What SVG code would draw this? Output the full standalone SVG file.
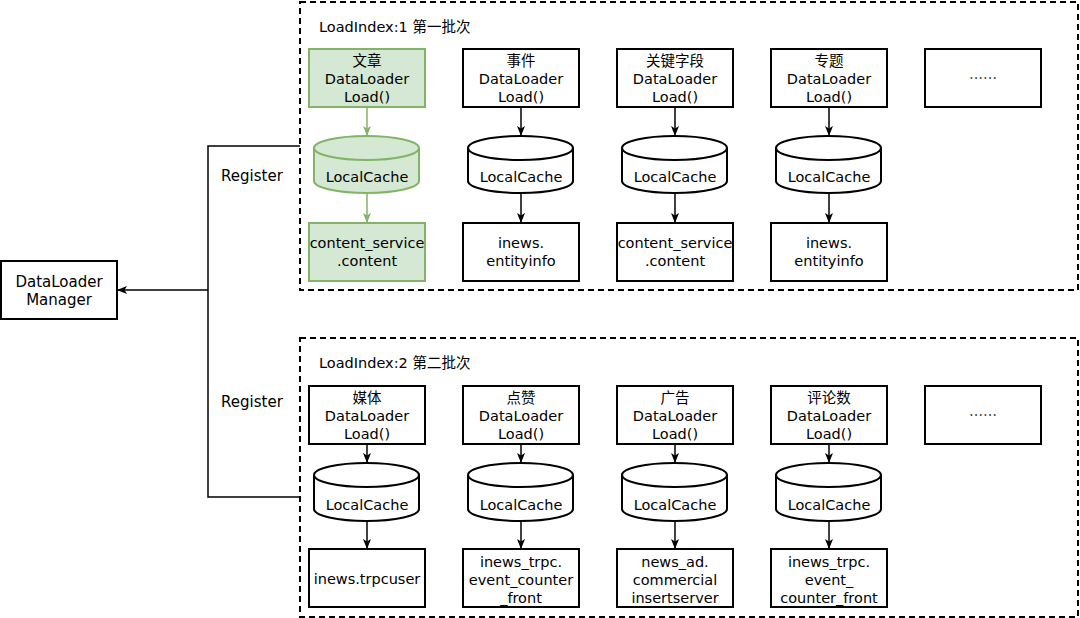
<svg xmlns="http://www.w3.org/2000/svg" width="1080" height="618" viewBox="0 0 1080 618">
<style>
text{font-family:"DejaVu Sans","Noto Sans CJK SC",sans-serif;font-size:14.5px;fill:#000;text-anchor:middle}
.lbl{text-anchor:start;font-size:14.5px}
.reg{font-size:15px}
.mgr{font-size:15px}
.box{fill:#fff;stroke:#000;stroke-width:2}
.gbox{fill:#d5e8d4;stroke:#82b366;stroke-width:2}
.lid{fill:none;stroke:#000;stroke-width:2}
.glid{fill:none;stroke:#82b366;stroke-width:2}
.grp{fill:none;stroke:#000;stroke-width:2;stroke-dasharray:6 4}
.edge{fill:none;stroke:#000;stroke-width:1.5}
.arr{fill:none;stroke:#000;stroke-width:1.5;marker-end:url(#ah)}
.garr{fill:none;stroke:#82b366;stroke-width:1.5;marker-end:url(#gah)}
.cj{font-family:"Noto Sans CJK SC",sans-serif;font-size:14px}
</style>
<defs>
<marker id="ah" viewBox="0 0 10 8" refX="10" refY="4" markerWidth="10" markerHeight="8" markerUnits="userSpaceOnUse" orient="auto"><path d="M0,0 L10,4 L0,8 L2.5,4 Z" fill="#000"/></marker>
<marker id="gah" viewBox="0 0 10 8" refX="10" refY="4" markerWidth="10" markerHeight="8" markerUnits="userSpaceOnUse" orient="auto"><path d="M0,0 L10,4 L0,8 L2.5,4 Z" fill="#82b366"/></marker>
</defs>

<g id="group1">
<rect class="grp" x="300" y="2" width="778" height="288"/>
<text class="lbl" x="319" y="32">LoadIndex:1 第一批次</text>
</g>
<g id="group2">
<rect class="grp" x="300" y="338" width="778" height="279"/>
<text class="lbl" x="319" y="368">LoadIndex:2 第二批次</text>
</g>

<g id="manager">
<rect class="box" x="1" y="261" width="116" height="58"/>
<text class="mgr" x="59" y="287">DataLoader</text>
<text class="mgr" x="59" y="305">Manager</text>
</g>

<g id="connectors">
<path class="edge" d="M300,146 H208 V497 H300"/>
<path class="arr" d="M208,290 H117"/>
<text class="reg" x="252" y="181">Register</text>
<text class="reg" x="252" y="407">Register</text>
<path class="garr" d="M367,107 V136"/>
<path class="garr" d="M367,193 V223"/>
<path class="arr" d="M521,107 V136"/>
<path class="arr" d="M521,193 V223"/>
<path class="arr" d="M675,107 V136"/>
<path class="arr" d="M675,193 V223"/>
<path class="arr" d="M829,107 V136"/>
<path class="arr" d="M829,193 V223"/>
<path class="arr" d="M367,444 V463"/>
<path class="arr" d="M367,521 V549"/>
<path class="arr" d="M521,444 V463"/>
<path class="arr" d="M521,521 V549"/>
<path class="arr" d="M675,444 V463"/>
<path class="arr" d="M675,521 V549"/>
<path class="arr" d="M829,444 V463"/>
<path class="arr" d="M829,521 V549"/>
</g>

<g id="loader-wenzhang">
<rect class="gbox" x="309" y="49" width="116" height="58"/>
<text x="367" y="66">文章</text><text x="367" y="84">DataLoader</text><text x="367" y="102">Load()</text>
</g>
<g id="cache-wenzhang">
<path class="gbox" d="M314,148 A52.5,12 0 0 1 419,148 V181 A52.5,12 0 0 1 314,181 Z"/>
<path class="glid" d="M314,148 A52.5,12 0 0 0 419,148"/>
<text x="367" y="182">LocalCache</text>
</g>
<g id="src-wenzhang">
<rect class="gbox" x="309" y="223" width="116" height="58"/>
<text x="367" y="248">content_service</text><text x="367" y="266">.content</text>
</g>

<g id="loader-shijian">
<rect class="box" x="463" y="49" width="116" height="58"/>
<text x="521" y="66">事件</text><text x="521" y="84">DataLoader</text><text x="521" y="102">Load()</text>
</g>
<g id="cache-shijian">
<path class="box" d="M468,148 A52.5,12 0 0 1 573,148 V181 A52.5,12 0 0 1 468,181 Z"/>
<path class="lid" d="M468,148 A52.5,12 0 0 0 573,148"/>
<text x="521" y="182">LocalCache</text>
</g>
<g id="src-shijian">
<rect class="box" x="463" y="223" width="116" height="58"/>
<text x="521" y="248">inews.</text><text x="521" y="266">entityinfo</text>
</g>

<g id="loader-guanjian">
<rect class="box" x="617" y="49" width="116" height="58"/>
<text x="675" y="66">关键字段</text><text x="675" y="84">DataLoader</text><text x="675" y="102">Load()</text>
</g>
<g id="cache-guanjian">
<path class="box" d="M622,148 A52.5,12 0 0 1 727,148 V181 A52.5,12 0 0 1 622,181 Z"/>
<path class="lid" d="M622,148 A52.5,12 0 0 0 727,148"/>
<text x="675" y="182">LocalCache</text>
</g>
<g id="src-guanjian">
<rect class="box" x="617" y="223" width="116" height="58"/>
<text x="675" y="248">content_service</text><text x="675" y="266">.content</text>
</g>

<g id="loader-zhuanti">
<rect class="box" x="771" y="49" width="116" height="58"/>
<text x="829" y="66">专题</text><text x="829" y="84">DataLoader</text><text x="829" y="102">Load()</text>
</g>
<g id="cache-zhuanti">
<path class="box" d="M776,148 A52.5,12 0 0 1 881,148 V181 A52.5,12 0 0 1 776,181 Z"/>
<path class="lid" d="M776,148 A52.5,12 0 0 0 881,148"/>
<text x="829" y="182">LocalCache</text>
</g>
<g id="src-zhuanti">
<rect class="box" x="771" y="223" width="116" height="58"/>
<text x="829" y="248">inews.</text><text x="829" y="266">entityinfo</text>
</g>

<g id="more-1">
<rect class="box" x="925" y="49" width="116" height="58"/>
<text class="cj" x="983" y="83">……</text>
</g>

<g id="loader-meiti">
<rect class="box" x="309" y="386" width="116" height="58"/>
<text x="367" y="403">媒体</text><text x="367" y="421">DataLoader</text><text x="367" y="439">Load()</text>
</g>
<g id="cache-meiti">
<path class="box" d="M314,475 A52.5,12 0 0 1 419,475 V509 A52.5,12 0 0 1 314,509 Z"/>
<path class="lid" d="M314,475 A52.5,12 0 0 0 419,475"/>
<text x="367" y="510">LocalCache</text>
</g>
<g id="src-meiti">
<rect class="box" x="309" y="549" width="116" height="58"/>
<text x="367" y="584">inews.trpcuser</text>
</g>

<g id="loader-dianzan">
<rect class="box" x="463" y="386" width="116" height="58"/>
<text x="521" y="403">点赞</text><text x="521" y="421">DataLoader</text><text x="521" y="439">Load()</text>
</g>
<g id="cache-dianzan">
<path class="box" d="M468,475 A52.5,12 0 0 1 573,475 V509 A52.5,12 0 0 1 468,509 Z"/>
<path class="lid" d="M468,475 A52.5,12 0 0 0 573,475"/>
<text x="521" y="510">LocalCache</text>
</g>
<g id="src-dianzan">
<rect class="box" x="463" y="549" width="116" height="58"/>
<text x="521" y="567">inews_trpc.</text><text x="521" y="585">event_counter</text><text x="521" y="603">_front</text>
</g>

<g id="loader-guanggao">
<rect class="box" x="617" y="386" width="116" height="58"/>
<text x="675" y="403">广告</text><text x="675" y="421">DataLoader</text><text x="675" y="439">Load()</text>
</g>
<g id="cache-guanggao">
<path class="box" d="M622,475 A52.5,12 0 0 1 727,475 V509 A52.5,12 0 0 1 622,509 Z"/>
<path class="lid" d="M622,475 A52.5,12 0 0 0 727,475"/>
<text x="675" y="510">LocalCache</text>
</g>
<g id="src-guanggao">
<rect class="box" x="617" y="549" width="116" height="58"/>
<text x="675" y="567">news_ad.</text><text x="675" y="585">commercial</text><text x="675" y="603">insertserver</text>
</g>

<g id="loader-pinglun">
<rect class="box" x="771" y="386" width="116" height="58"/>
<text x="829" y="403">评论数</text><text x="829" y="421">DataLoader</text><text x="829" y="439">Load()</text>
</g>
<g id="cache-pinglun">
<path class="box" d="M776,475 A52.5,12 0 0 1 881,475 V509 A52.5,12 0 0 1 776,509 Z"/>
<path class="lid" d="M776,475 A52.5,12 0 0 0 881,475"/>
<text x="829" y="510">LocalCache</text>
</g>
<g id="src-pinglun">
<rect class="box" x="771" y="549" width="116" height="58"/>
<text x="829" y="567">inews_trpc.</text><text x="829" y="585">event_</text><text x="829" y="603">counter_front</text>
</g>

<g id="more-2">
<rect class="box" x="925" y="386" width="116" height="58"/>
<text class="cj" x="983" y="420">……</text>
</g>
</svg>
